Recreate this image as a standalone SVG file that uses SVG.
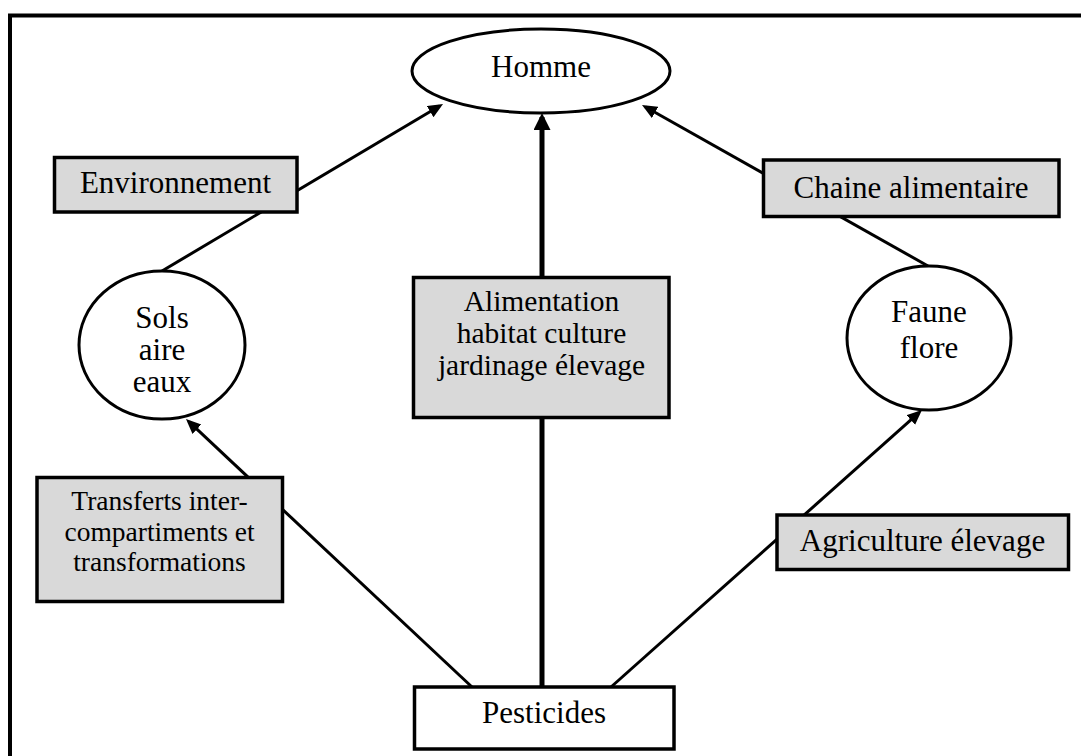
<svg xmlns="http://www.w3.org/2000/svg" width="1081" height="756" viewBox="0 0 1081 756">
<style>
  text { font-family: "Liberation Serif", "Times New Roman", serif; fill: #000; text-anchor: middle; }
  .t30 { font-size: 31px; }
  .t29 { font-size: 29.5px; }
  .t27 { font-size: 27.5px; }
  .box { fill: #d9d9d9; stroke: #000; stroke-width: 3.5; }
  .wbox { fill: #fff; stroke: #000; stroke-width: 3.5; }
  .shape { fill: #fff; stroke: #000; stroke-width: 3; }
  .conn { fill: none; stroke: #000; stroke-width: 3; }
  .thick { fill: none; stroke: #000; stroke-width: 5; }
</style>
<defs>
  <marker id="arr" markerUnits="userSpaceOnUse" markerWidth="16" markerHeight="14" refX="11" refY="6.5" orient="auto">
    <path d="M0,0 L15,6.5 L0,13 z" fill="#000"/>
  </marker>
  <marker id="arrBig" markerUnits="userSpaceOnUse" markerWidth="18" markerHeight="18" refX="13" refY="8.5" orient="auto">
    <path d="M0,0 L17,8.5 L0,17 z" fill="#000"/>
  </marker>
</defs>
<rect width="1081" height="756" fill="#fff"/>
<path d="M10,756 L10,15.5 L1081,15.5" fill="none" stroke="#000" stroke-width="4"/>
<g id="connectors">
  <path class="conn" d="M162,271 L439.6,106" marker-end="url(#arr)"/>
  <path class="conn" d="M928,266 L645.5,107" marker-end="url(#arr)"/>
  <path class="conn" d="M472,687 L188.9,421.7" marker-end="url(#arr)"/>
  <path class="conn" d="M611,687 L919,412.7" marker-end="url(#arr)"/>
  <path class="thick" d="M542,687 L542,117" marker-end="url(#arrBig)"/>
</g>
<g id="homme">
  <ellipse class="shape" cx="541" cy="71" rx="129" ry="42"/>
  <text class="t30" x="541" y="77">Homme</text>
</g>
<g id="environnement">
  <rect class="box" x="54.5" y="157.5" width="242.5" height="54.5"/>
  <text class="t30" x="175.5" y="193">Environnement</text>
</g>
<g id="chaine">
  <rect class="box" x="763.5" y="160" width="295.5" height="56.5"/>
  <text class="t30" x="911" y="198">Chaine alimentaire</text>
</g>
<g id="sols">
  <ellipse class="shape" cx="162" cy="345" rx="83" ry="74"/>
  <text class="t30" x="162" y="328">Sols</text>
  <text class="t30" x="162" y="360">aire</text>
  <text class="t30" x="162" y="392">eaux</text>
</g>
<g id="faune">
  <ellipse class="shape" cx="929" cy="338" rx="82" ry="72"/>
  <text class="t30" x="929" y="322">Faune</text>
  <text class="t30" x="929" y="358">flore</text>
</g>
<g id="alimentation">
  <rect class="box" x="413.5" y="277.5" width="255.5" height="140"/>
  <text class="t29" x="541.5" y="311">Alimentation</text>
  <text class="t29" x="541.5" y="343">habitat culture</text>
  <text class="t29" x="541.5" y="375">jardinage élevage</text>
</g>
<g id="transferts">
  <rect class="box" x="37" y="477.5" width="245.5" height="124"/>
  <text class="t27" x="159.5" y="510">Transferts inter-</text>
  <text class="t27" x="159.5" y="541">compartiments et</text>
  <text class="t27" x="159.5" y="571">transformations</text>
</g>
<g id="agriculture">
  <rect class="box" x="777" y="515" width="291.5" height="54.5"/>
  <text class="t30" x="922.5" y="551">Agriculture élevage</text>
</g>
<g id="pesticides">
  <rect class="wbox" x="414.5" y="687" width="259.5" height="62"/>
  <text class="t30" x="544" y="723">Pesticides</text>
</g>
</svg>
